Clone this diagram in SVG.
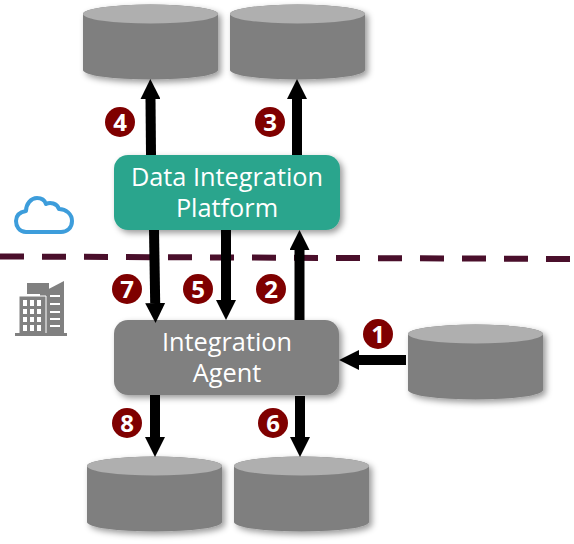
<svg xmlns="http://www.w3.org/2000/svg" width="574" height="544" viewBox="0 0 574 544">
<style>
.lbl{font-family:"Open Sans","DejaVu Sans",sans-serif;font-size:25.300px;fill:#fff;text-anchor:middle}
.num{font-family:"Open Sans","DejaVu Sans",sans-serif;font-size:24px;font-weight:700;fill:#fff;text-anchor:middle}
.badge{fill:#7f0000}
.side{fill:#7f7f7f}
.top{fill:#afafaf}
.arr{stroke:#000;stroke-width:10;fill:none;marker-end:url(#ah)}
</style>
<defs>
<marker id="ah" markerUnits="userSpaceOnUse" markerWidth="20" markerHeight="20" refX="0" refY="10" orient="auto"><path d="M0 0L20 10L0 20Z" fill="#000"/></marker>
<filter id="sh" x="-15%" y="-15%" width="135%" height="135%"><feDropShadow dx="3" dy="3" stdDeviation="3" flood-color="#000" flood-opacity=".4"/></filter>
<g id="cyl"><g filter="url(#sh)"><path class="side" d="M0 10A67.500 9.500 0 0 1 135 10V66A67.500 9.500 0 0 1 0 66Z"/></g><ellipse class="top" cx="67.500" cy="10" rx="67.500" ry="9.500"/></g>
</defs>
<g id="boundary"><path d="M0 256.500L574 259" stroke="#4a0f2b" stroke-width="6" stroke-dasharray="24 18" fill="none"/></g>
<g id="cloud"><path d="M26 232C19 232 16 226 16 221C16 215 20 212 26 211C26 204 31 198 37 198C42 198 45 201 46 204C50 202 57 203 59 209C66 209 72 214 72 221C72 228 67 232 61 232Z" fill="#fff" stroke="#3d9ddb" stroke-width="4" stroke-linejoin="round"/></g>
<g id="building">
<path d="M27 283H49V293L40 297V294H27Z" fill="#808080"/>
<path d="M41 298V293L64 281V334H41Z" fill="#808080"/>
<path d="M19 296H46V334H19Z" fill="#808080" stroke="#fff" stroke-width="1"/>
<rect x="15" y="333" width="52" height="3" fill="#808080"/>
<path d="M23 300h4v6h-4zM30 300h4v6h-4zM37 300h4v6h-4zM23 309h4v5h-4zM30 309h4v5h-4zM37 309h4v5h-4zM23 317h4v5h-4zM30 317h4v5h-4zM37 317h4v5h-4zM23 325h4v6h-4zM30 325h4v6h-4zM37 325h4v6h-4z" fill="#fff"/>
<path d="M50 295h10v2h-10zM50 303h10v2h-10zM50 311h10v2h-10zM50 318h10v2h-10zM50 325h10v2h-10z" fill="#fff"/>
</g>
<use id="db-top-left" href="#cyl" x="83" y="4"/>
<use id="db-top-right" href="#cyl" x="230" y="4"/>
<use id="db-source" href="#cyl" x="408" y="324"/>
<use id="db-bottom-left" href="#cyl" x="87" y="456"/>
<use id="db-bottom-right" href="#cyl" x="234" y="456"/>
<g id="platform"><rect x="114" y="155" width="226" height="75" rx="14" fill="#2ca58d" filter="url(#sh)"/><text class="lbl" x="227" y="186">Data Integration</text><text class="lbl" x="227" y="217">Platform</text></g>
<g id="agent"><rect x="114" y="320" width="225" height="75" rx="14" fill="#808080" filter="url(#sh)"/><text class="lbl" x="227" y="351">Integration</text><text class="lbl" x="227" y="382">Agent</text></g>
<g id="connectors">
<path class="arr" d="M151 155L150.500 99"/>
<path class="arr" d="M297 155V99"/>
<path class="arr" d="M154 230L155.200 303"/>
<path class="arr" d="M226 230V300"/>
<path class="arr" d="M299.500 320V250"/>
<path class="arr" d="M406 360H359"/>
<path class="arr" d="M155 395V437"/>
<path class="arr" d="M300 396V437"/>
</g>
<g id="b1"><circle class="badge" cx="378" cy="334" r="15"/><text class="num" x="378" y="342.500">1</text></g>
<g id="b2"><circle class="badge" cx="271" cy="289" r="15"/><text class="num" x="271" y="297.500">2</text></g>
<g id="b3"><circle class="badge" cx="270" cy="122" r="15"/><text class="num" x="270" y="130.500">3</text></g>
<g id="b4"><circle class="badge" cx="120" cy="122" r="15"/><text class="num" x="120" y="130.500">4</text></g>
<g id="b5"><circle class="badge" cx="198" cy="289" r="15"/><text class="num" x="198" y="297.500">5</text></g>
<g id="b6"><circle class="badge" cx="273" cy="423" r="15"/><text class="num" x="273" y="431.500">6</text></g>
<g id="b7"><circle class="badge" cx="127" cy="289" r="15"/><text class="num" x="127" y="297.500">7</text></g>
<g id="b8"><circle class="badge" cx="127" cy="423" r="15"/><text class="num" x="127" y="431.500">8</text></g>
</svg>
